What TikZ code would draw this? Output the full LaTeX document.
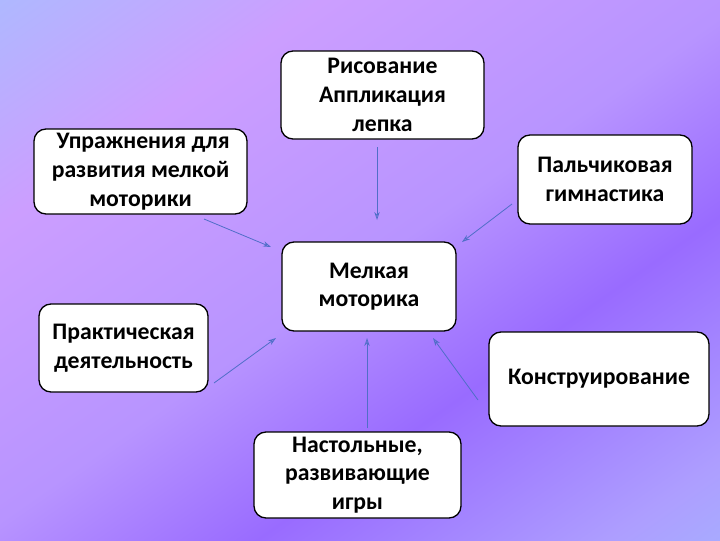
\documentclass[tikz,border=0pt]{standalone}
\usepackage{fontspec}
\setmainfont{Carlito}
\usetikzlibrary{arrows.meta, positioning}
\pgfdeclarehorizontalshading{diagband}{100bp}{
  rgb(0bp)=(0.80,0.80,1.0);
  rgb(22bp)=(0.60,0.80,1.0);
  rgb(38bp)=(0.80,0.62,1.0);
  rgb(50bp)=(0.72,0.58,1.0);
  rgb(58bp)=(0.60,0.42,1.0);
  rgb(68bp)=(0.68,0.62,1.0);
  rgb(80bp)=(0.60,0.80,1.0);
  rgb(100bp)=(0.66,0.86,1.0)}
\tikzset{
  box/.style={draw=black, line width=1pt, fill=white, rounded corners=9pt,
    align=center, font=\fontsize{17.8}{21.5}\selectfont\bfseries, inner sep=0pt},
  link/.style={draw={rgb,255:red,80;green,110;blue,200}, line width=0.6pt,
    -{Stealth[length=6pt,width=4pt,open]}}
}
\begin{document}
\begin{tikzpicture}[x=0.75pt,y=0.75pt,yscale=-1,xscale=1]
\useasboundingbox (0,0) rectangle (720,540);
% background
\shade[shading=diagband, shading angle=-55] (-200,-200) rectangle (920,740);

% boxes
\node [box, minimum width=130.5pt, minimum height=66.75pt] (center) at (369,286.5) {Мелкая\\моторика};
\node [box, minimum width=152.25pt, minimum height=66pt] (risov) at (382.5,95) {Рисование\\Аппликация\\лепка};
\node [box, minimum width=159.75pt, minimum height=63.75pt] (uprazh) at (140.5,171.5) {\ Упражнения для\\развития мелкой\\моторики};
\node [box, minimum width=130.5pt, minimum height=66.75pt] (palch) at (605,179.5) {Пальчиковая\\гимнастика};
\node [box, minimum width=126.75pt, minimum height=66pt] (prakt) at (123.5,348) {Практическая\\деятельность};
\node [box, minimum width=165pt, minimum height=70.5pt] (konstr) at (599,379) {Конструирование};
\node [box, minimum width=155.25pt, minimum height=64.5pt] (nastol) at (357.5,475) {Настольные,\\развивающие\\игры};

% arrow ends
\coordinate (a1) at (377,147); \coordinate (b1) at (377,220);
\coordinate (a2) at (204,219); \coordinate (b2) at (271,247);
\coordinate (a3) at (512,204); \coordinate (b3) at (462,242);
\coordinate (a4) at (214,383); \coordinate (b4) at (276,338);
\coordinate (a5) at (478,400); \coordinate (b5) at (433,338);
\coordinate (a6) at (367,428); \coordinate (b6) at (367,338);
\foreach \i in {1,...,6}
  \draw [link] (a\i) -- (b\i);
\end{tikzpicture}
\end{document}
